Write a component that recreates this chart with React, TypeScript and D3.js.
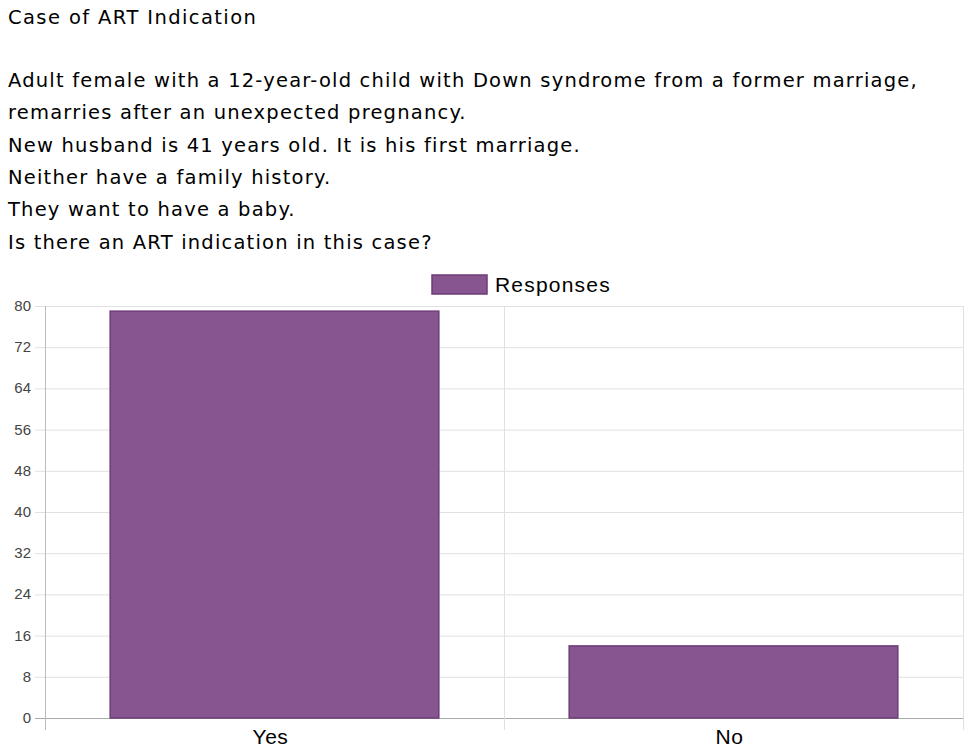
import React, { useEffect, useRef } from "react";
import * as d3 from "d3";

const title = "Case of ART Indication";
const caseLines = [
  "Adult female with a 12-year-old child with Down syndrome from a former marriage,",
  "remarries after an unexpected pregnancy.",
  "New husband is 41 years old. It is his first marriage.",
  "Neither have a family history.",
  "They want to have a baby.",
  "Is there an ART indication in this case?",
];
const categories = ["Yes", "No"];
const responses = [79, 14];
const yTicks = [0, 8, 16, 24, 32, 40, 48, 56, 64, 72, 80];
const seriesName = "Responses";

export default function App() {
  const svgRef = useRef<SVGSVGElement>(null);
  const width = 971;
  const height = 750;

  useEffect(() => {
    const svg = d3.select(svgRef.current);
    svg.selectAll("*").remove();

    const font = "'DejaVu Sans', Verdana, sans-serif";
    const arial = "Arial, 'Liberation Sans', sans-serif";

    // Heading text block
    svg.append("text")
      .attr("x", 8)
      .attr("y", 24)
      .attr("font-family", font)
      .attr("font-size", 19.5)
      .attr("letter-spacing", 1.4)
      .attr("fill", "#000")
      .text(title);

    svg.selectAll(".line")
      .data(caseLines)
      .enter()
      .append("text")
      .attr("class", "line")
      .attr("x", 8)
      .attr("y", (d, i) => 87 + i * 32.3)
      .attr("font-family", font)
      .attr("font-size", 19.5)
      .attr("letter-spacing", 1.2)
      .attr("fill", "#000")
      .text(d => d);

    const margin = { top: 306, left: 45, right: 8 };
    const plotW = width - margin.left - margin.right;
    const plotBottom = 718;

    const x = d3.scaleBand().domain(categories).range([margin.left, margin.left + plotW]).paddingInner(0).paddingOuter(0);
    const y = d3.scaleLinear().domain([0, 80]).range([plotBottom, margin.top]);

    const g = svg.append("g");

    // horizontal grid
    g.selectAll(".hgrid")
      .data(yTicks)
      .enter()
      .append("line")
      .attr("x1", margin.left - 10)
      .attr("x2", margin.left + plotW)
      .attr("y1", d => y(d) + 0.5)
      .attr("y2", d => y(d) + 0.5)
      .attr("stroke", d => (d === 0 ? "#aaa" : "#e0e0e0"))
      .attr("stroke-width", 1);

    // vertical grid at band edges
    const edges = [...categories.map(c => x(c) as number), margin.left + plotW];
    g.selectAll(".vgrid")
      .data(edges)
      .enter()
      .append("line")
      .attr("x1", d => Math.round(d) + 0.5)
      .attr("x2", d => Math.round(d) + 0.5)
      .attr("y1", margin.top)
      .attr("y2", plotBottom + 12)
      .attr("stroke", (d, i) => (i === 0 ? "#bbb" : "#e0e0e0"));

    // tick labels
    g.selectAll(".ylab")
      .data(yTicks)
      .enter()
      .append("text")
      .attr("x", 31)
      .attr("y", d => y(d) + 5)
      .attr("text-anchor", "end")
      .attr("font-family", arial)
      .attr("font-size", 15)
      .attr("fill", "#444")
      .text(d => d);

    // bars
    const barPad = x.bandwidth() * 0.142;
    g.selectAll(".bar")
      .data(responses)
      .enter()
      .append("rect")
      .attr("x", (d, i) => (x(categories[i]) as number) + barPad)
      .attr("width", x.bandwidth() - 2 * barPad)
      .attr("y", d => y(d))
      .attr("height", d => plotBottom - y(d))
      .attr("fill", "#87558f")
      .attr("stroke", "#6d3d78")
      .attr("stroke-width", 1.5);

    // category labels
    g.selectAll(".xlab")
      .data(categories)
      .enter()
      .append("text")
      .attr("x", d => (x(d) as number) + x.bandwidth() / 2 - 4)
      .attr("y", 744)
      .attr("text-anchor", "middle")
      .attr("font-family", arial)
      .attr("font-size", 21)
      .attr("letter-spacing", 0.5)
      .attr("fill", "#000")
      .text(d => d);

    // legend
    svg.append("rect")
      .attr("x", 432)
      .attr("y", 275)
      .attr("width", 55)
      .attr("height", 19)
      .attr("fill", "#87558f")
      .attr("stroke", "#6d3d78")
      .attr("stroke-width", 1.5);
    svg.append("text")
      .attr("x", 495)
      .attr("y", 292)
      .attr("font-family", arial)
      .attr("font-size", 21)
      .attr("letter-spacing", 1.2)
      .attr("fill", "#000")
      .text(seriesName);
  }, []);

  return (
    <div style={{ position: "absolute", left: 0, top: 0, background: "#fff" }}>
      <svg ref={svgRef} width={width} height={height} style={{ display: "block" }}></svg>
    </div>
  );
}
